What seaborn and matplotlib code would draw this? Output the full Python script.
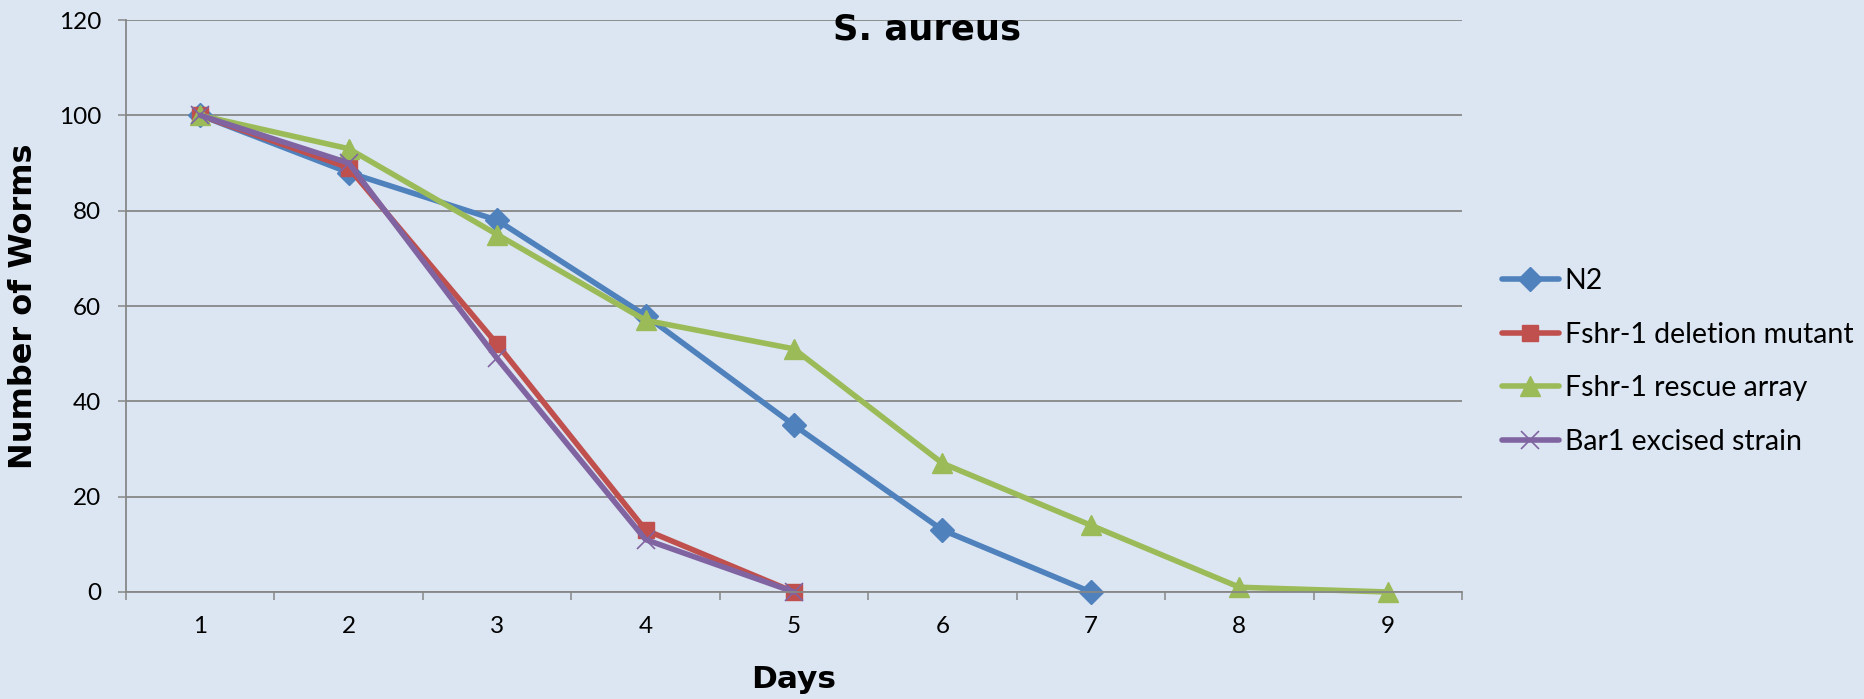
import matplotlib
matplotlib.use("Agg")
import matplotlib.pyplot as plt
from matplotlib.ticker import FixedLocator, NullFormatter, FixedFormatter
import seaborn as sns
import pandas as pd

# Survival counts per day on S. aureus
series_names = ["N2", "Fshr-1 deletion mutant", "Fshr-1 rescue array", "Bar1 excised strain"]
n2 = [100, 88, 78, 58, 35, 13, 0]
fshr1_deletion = [100, 89, 52, 13, 0]
fshr1_rescue = [100, 93, 75, 57, 51, 27, 14, 1, 0]
bar1_excised = [100, 90, 49, 11, 0]
day_labels = ["1", "2", "3", "4", "5", "6", "7", "8", "9"]
y_ticks = [0, 20, 40, 60, 80, 100, 120]

colors = ["#4F81BD", "#C0504D", "#9BBB59", "#8064A2"]
markers = ["D", "s", "^", "x"]
marker_sizes = [12.5, 12, 14, 13]
marker_edge = [1, 1, 1, 1.2]

bg = "#DCE6F2"
grid_col = "#878787"

sns.set_theme(style="white")
plt.rcParams["font.family"] = ["Lato", "DejaVu Sans"]
plt.rcParams["text.color"] = "black"
plt.rcParams["xtick.color"] = "black"
plt.rcParams["ytick.color"] = "black"
plt.rcParams["axes.labelcolor"] = "black"

fig = plt.figure(figsize=(18.64, 6.99), dpi=100, facecolor=bg)
ax = fig.add_axes([126 / 1864, 1 - 592 / 699, 1336 / 1864, 572 / 699])
ax.set_facecolor(bg)

all_series = [n2, fshr1_deletion, fshr1_rescue, bar1_excised]
for name, vals, c, m, ms, mew in zip(series_names, all_series, colors, markers, marker_sizes, marker_edge):
    df = pd.DataFrame({"day": range(1, len(vals) + 1), "worms": vals})
    sns.lineplot(data=df, x="day", y="worms", ax=ax, color=c, marker=m,
                 markersize=ms, markeredgecolor=c, markerfacecolor=c,
                 markeredgewidth=mew, linewidth=4, label=name, clip_on=False,
                 solid_capstyle="round", solid_joinstyle="round")

# Axis limits and ticks (category style: ticks between days, labels centred)
ax.set_xlim(0.5, 9.5)
ax.set_ylim(0, 120)
ax.xaxis.set_major_locator(FixedLocator([i + 0.5 for i in range(0, 10)]))
ax.xaxis.set_major_formatter(NullFormatter())
ax.xaxis.set_minor_locator(FixedLocator(list(range(1, 10))))
ax.xaxis.set_minor_formatter(FixedFormatter(day_labels))
ax.tick_params(axis="x", which="major", direction="out", length=5.5, width=1.1,
               color=grid_col, bottom=True)
ax.tick_params(axis="x", which="minor", length=0, pad=17, labelsize=17.5, bottom=True)
ax.set_yticks(y_ticks)
ax.tick_params(axis="y", direction="out", length=5.8, width=1.1, color=grid_col,
               pad=12, labelsize=17.5, left=True)

ax.yaxis.grid(True, color=grid_col, linewidth=1.3)
ax.xaxis.grid(False)
ax.set_axisbelow(True)
for side in ["top", "right"]:
    ax.spines[side].set_visible(False)
for side in ["left", "bottom"]:
    ax.spines[side].set_color(grid_col)
    ax.spines[side].set_linewidth(1.3)

ax.set_xlabel("Days", fontsize=22.5, fontweight="bold", family=["DejaVu Sans"])
ax.set_ylabel("Number of Worms", fontsize=23, fontweight="bold", family=["DejaVu Sans"])
ax.xaxis.label.set_va("center")
ax.yaxis.label.set_va("center")
ax.xaxis.set_label_coords(0.5, (592 - 679) / 572)
ax.yaxis.set_label_coords((23 - 126) / 1336, 0.5)

fig.text(927 / 1864, 1 - 29 / 699, "S. aureus", ha="center", va="center",
         fontsize=25.5, fontweight="bold", family=["DejaVu Sans"])

leg = ax.legend(loc="center left", bbox_to_anchor=(1502 / 1864, 1 - 361.5 / 699),
                bbox_transform=fig.transFigure, frameon=False, fontsize=20.5,
                handlelength=2.0, handletextpad=0.2, labelspacing=0.97,
                borderpad=0, borderaxespad=0)

fig.savefig("out.png", dpi=100, facecolor=bg)
